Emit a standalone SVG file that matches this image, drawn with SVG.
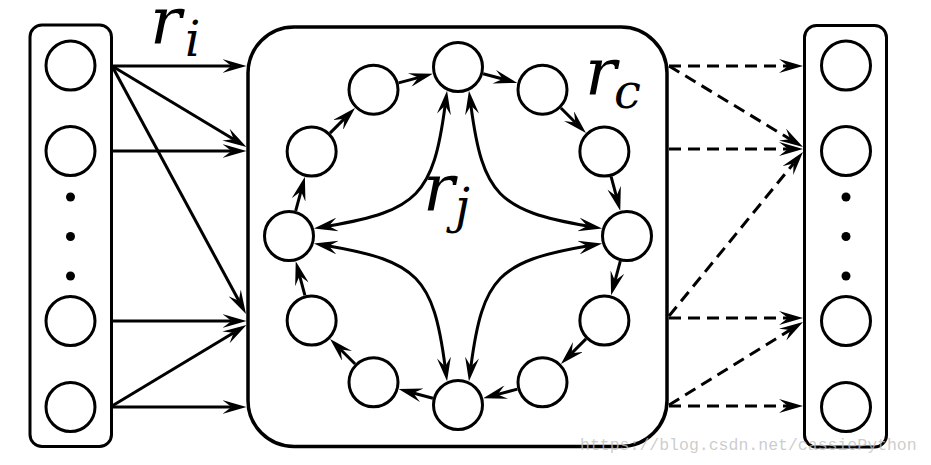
<svg xmlns="http://www.w3.org/2000/svg" width="931" height="465" viewBox="0 0 931 465">
<style>
.box{fill:none;stroke:#000;stroke-width:3}
.big{fill:none;stroke:#000;stroke-width:3.5}
.nd{fill:#fff;stroke:#000;stroke-width:3}
.dot{fill:#000}
.ln{fill:none;stroke:#000;stroke-width:3;marker-end:url(#ah)}
.dl{fill:none;stroke:#000;stroke-width:3;stroke-dasharray:12 7;marker-end:url(#ah)}
.cv{fill:none;stroke:#000;stroke-width:3;marker-start:url(#ah);marker-end:url(#ah)}
.lbl{font-family:"DejaVu Serif","Liberation Serif",serif;font-style:italic;fill:#000}
.wm{font-family:"Liberation Mono","DejaVu Sans Mono",monospace;font-size:16.5px;fill:#c0c0c0;fill-opacity:0.8}
</style>
<defs>
<marker id="ah" viewBox="0 -7 24 14" refX="9" refY="0" markerWidth="24" markerHeight="14" markerUnits="userSpaceOnUse" orient="auto-start-reverse">
<path d="M0,-7 L24,0 L0,7 L9,0 Z" fill="#000"/>
</marker>
</defs>
<rect width="931" height="465" fill="#fff"/>

<g id="input-layer">
<rect class="box" x="30" y="25" width="81.5" height="421.5" rx="12"/>
<g id="in1"><circle class="nd" cx="70.5" cy="65.5" r="24.5"/></g>
<g id="in2"><circle class="nd" cx="70.5" cy="151" r="24.5"/></g>
<g id="in-dots"><circle class="dot" cx="70.5" cy="197" r="4.5"/><circle class="dot" cx="70.5" cy="236.5" r="4.5"/><circle class="dot" cx="70.5" cy="276" r="4.5"/></g>
<g id="in3"><circle class="nd" cx="70.5" cy="321" r="24.5"/></g>
<g id="in4"><circle class="nd" cx="70.5" cy="407" r="24.5"/></g>
</g>

<g id="reservoir">
<rect class="big" x="248" y="27" width="419" height="419.5" rx="46"/>
</g>

<g id="output-layer">
<rect class="box" x="804.5" y="25.5" width="82" height="421.5" rx="12"/>
<g id="out1"><circle class="nd" cx="846" cy="65.5" r="24.5"/></g>
<g id="out2"><circle class="nd" cx="846" cy="151" r="24.5"/></g>
<g id="out-dots"><circle class="dot" cx="846" cy="197" r="4.5"/><circle class="dot" cx="846" cy="236.5" r="4.5"/><circle class="dot" cx="846" cy="276" r="4.5"/></g>
<g id="out3"><circle class="nd" cx="846" cy="321" r="24.5"/></g>
<g id="out4"><circle class="nd" cx="846" cy="407" r="24.5"/></g>
</g>

<g id="connectors">
<line class="ln" x1="112" y1="66" x2="231.5" y2="66"/>
<line class="ln" x1="112" y1="66" x2="233.65" y2="139.26"/>
<line class="ln" x1="112" y1="66" x2="238.87" y2="300.8"/>
<line class="ln" x1="112" y1="151" x2="231.5" y2="151"/>
<line class="ln" x1="112" y1="321" x2="231.5" y2="321"/>
<line class="ln" x1="112" y1="406" x2="233.65" y2="332.74"/>
<line class="ln" x1="112" y1="407" x2="231.5" y2="407"/>

<line class="dl" x1="669" y1="66" x2="788" y2="66"/>
<line class="dl" x1="669" y1="66" x2="790.16" y2="139.24"/>
<line class="dl" x1="669" y1="149" x2="788" y2="149"/>
<line class="dl" x1="669" y1="316" x2="793.5" y2="163.6"/>
<line class="dl" x1="669" y1="318" x2="788" y2="318"/>
<line class="dl" x1="669" y1="405" x2="790.25" y2="329.9"/>
<line class="dl" x1="669" y1="406" x2="788" y2="406"/>

<line class="ln" x1="483.1" y1="73.7" x2="502.85" y2="79" transform="rotate(0 458 236)"/>
<line class="ln" x1="483.1" y1="73.7" x2="502.85" y2="79" transform="rotate(30 458 236)"/>
<line class="ln" x1="483.1" y1="73.7" x2="502.85" y2="79" transform="rotate(60 458 236)"/>
<line class="ln" x1="483.1" y1="73.7" x2="502.85" y2="79" transform="rotate(90 458 236)"/>
<line class="ln" x1="483.1" y1="73.7" x2="502.85" y2="79" transform="rotate(120 458 236)"/>
<line class="ln" x1="483.1" y1="73.7" x2="502.85" y2="79" transform="rotate(150 458 236)"/>
<line class="ln" x1="483.1" y1="73.7" x2="502.85" y2="79" transform="rotate(180 458 236)"/>
<line class="ln" x1="483.1" y1="73.7" x2="502.85" y2="79" transform="rotate(210 458 236)"/>
<line class="ln" x1="483.1" y1="73.7" x2="502.85" y2="79" transform="rotate(240 458 236)"/>
<line class="ln" x1="483.1" y1="73.7" x2="502.85" y2="79" transform="rotate(270 458 236)"/>
<line class="ln" x1="483.1" y1="73.7" x2="502.85" y2="79" transform="rotate(300 458 236)"/>
<line class="ln" x1="483.1" y1="73.7" x2="502.85" y2="79" transform="rotate(330 458 236)"/>

<path class="cv" d="M445.1,105.5 C433.4,194.6 417.4,210.7 328.7,226"/>
<path class="cv" d="M470.9,105.5 C482.6,194.6 498.6,210.7 587.3,226"/>
<path class="cv" d="M445.1,366.5 C433.4,277.4 417.4,261.3 328.7,246"/>
<path class="cv" d="M470.9,366.5 C482.6,277.4 498.6,261.3 587.3,246"/>
</g>

<g id="ring-nodes">
<g id="n0"><circle class="nd" cx="458" cy="67" r="24.5"/></g>
<g id="n1"><circle class="nd" cx="542.5" cy="89.64" r="24.5"/></g>
<g id="n2"><circle class="nd" cx="604.36" cy="151.5" r="24.5"/></g>
<g id="n3"><circle class="nd" cx="627" cy="236" r="24.5"/></g>
<g id="n4"><circle class="nd" cx="604.36" cy="320.5" r="24.5"/></g>
<g id="n5"><circle class="nd" cx="542.5" cy="382.36" r="24.5"/></g>
<g id="n6"><circle class="nd" cx="458" cy="405" r="24.5"/></g>
<g id="n7"><circle class="nd" cx="373.5" cy="382.36" r="24.5"/></g>
<g id="n8"><circle class="nd" cx="311.64" cy="320.5" r="24.5"/></g>
<g id="n9"><circle class="nd" cx="289" cy="236" r="24.5"/></g>
<g id="n10"><circle class="nd" cx="311.64" cy="151.5" r="24.5"/></g>
<g id="n11"><circle class="nd" cx="373.5" cy="89.64" r="24.5"/></g>
</g>

<g id="labels">
<text class="lbl" x="150" y="44" font-size="66">r</text>
<text class="lbl" x="185" y="56" font-size="48">i</text>
<text class="lbl" x="585" y="95" font-size="66">r</text>
<text class="lbl" x="614" y="108" font-size="48">c</text>
<text class="lbl" x="423" y="211" font-size="66">r</text>
<text class="lbl" x="455" y="223" font-size="48">j</text>
</g>

<text class="wm" x="580" y="450">https://blog.csdn.net/cassiePython</text>
</svg>
